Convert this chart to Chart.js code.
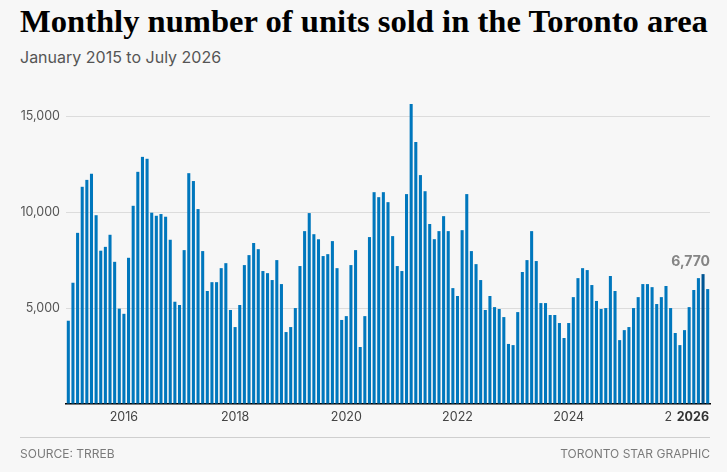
<!DOCTYPE html>
<html>
<head>
<meta charset="utf-8">
<script src="https://cdn.jsdelivr.net/npm/chart.js@4.4.1/dist/chart.umd.min.js"></script>
<style>
  html, body { margin:0; padding:0; background:#f7f7f7; }
  #wrap { position:relative; width:727px; height:472px; overflow:hidden; background:#f7f7f7; }
  #title { position:absolute; left:20px; top:5px; font-family:"Liberation Serif","Times New Roman",serif; font-weight:bold; font-size:32.6px; line-height:32px; color:#000; white-space:nowrap; }
  #subtitle { position:absolute; left:20px; top:49px; font-family:Inter,sans-serif; font-size:16px; line-height:16px; color:#555; white-space:nowrap; }
  #rule { position:absolute; left:20px; top:437px; width:690px; height:1px; background:#cfcfcf; }
  .foot { position:absolute; top:448px; font-family:Inter,sans-serif; font-size:12px; line-height:12px; color:#7a7a7a; white-space:nowrap; }
  #source { left:20px; }
  #credit { right:17px; }
  canvas { position:absolute; left:0; top:0; }
</style>
</head>
<body>
<div id="wrap">
  <div id="title">Monthly number of units sold in the Toronto area</div>
  <div id="subtitle">January 2015 to July 2026</div>
  <canvas id="c" width="727" height="472"></canvas>
  <div id="rule"></div>
  <div class="foot" id="source">SOURCE: TRREB</div>
  <div class="foot" id="credit">TORONTO STAR GRAPHIC</div>
</div>
<script>
// ---- data ----
const startYear = 2015;
const monthCodes = ['01','02','03','04','05','06','07','08','09','10','11','12'];
const units2015 = [4340, 6320, 8920, 11320, 11680, 12000, 9840, 7990, 8190, 8820, 7410, 4970];
const units2016 = [4700, 7620, 10330, 12100, 12880, 12780, 9970, 9810, 9900, 9760, 8560, 5330];
const units2017 = [5160, 8020, 12030, 11620, 10160, 7970, 5890, 6350, 6350, 7080, 7340, 4900];
const units2018 = [4010, 5160, 7240, 7760, 8390, 8070, 6930, 6820, 6460, 7500, 6250, 3750];
const units2019 = [4010, 5000, 7190, 9010, 9950, 8850, 8590, 7710, 7810, 8490, 7080, 4380];
const units2020 = [4580, 7240, 8020, 2970, 4580, 8700, 11040, 10780, 11040, 10520, 8750, 7190];
const units2021 = [6930, 10940, 15630, 13650, 11930, 11090, 9380, 8590, 9010, 9790, 9010, 6040];
const units2022 = [5630, 9060, 10940, 7970, 7290, 6460, 4900, 5630, 5050, 4950, 4530, 3130];
const units2023 = [3070, 4790, 6880, 7500, 9010, 7450, 5260, 5260, 4640, 4640, 4220, 3440];
const units2024 = [4220, 5570, 6560, 7080, 6980, 6200, 5370, 4950, 5000, 6670, 5890, 3330];
const units2025 = [3850, 4010, 5000, 5570, 6250, 6250, 6090, 5210, 5570, 6150, 5000, 3700];
const units2026 = [3070, 3850, 5050, 5940, 6560, 6770, 5990];
const yearlySeries = [units2015, units2016, units2017, units2018, units2019, units2020,
                      units2021, units2022, units2023, units2024, units2025, units2026];
const xTickYears = ['2016', '2018', '2020', '2022', '2024', '2026'];
const yTickValues = [5000, 10000, 15000];
const highlightMonth = '2026-06';
const boldTickLabel = '2026';

const categories = [];
const unitsSold = [];
yearlySeries.forEach((arr, yi) => {
  arr.forEach((v, mi) => {
    categories.push((startYear + yi) + '-' + monthCodes[mi]);
    unitsSold.push(v);
  });
});
const highlightIndex = categories.indexOf(highlightMonth);

// ---- styles ----
const BG = '#f7f7f7';
const BLUE = '#0077bd';
const DARK = '#005593';
const FONT = 'Inter, sans-serif';

const overlay = {
  id: 'overlay',
  afterDraw(chart) {
    const ctx = chart.ctx;
    const ca = chart.chartArea;
    const ys = chart.scales.y;
    ctx.save();
    // bold final-year tick label, boxed over the regular one
    ctx.font = 'bold 12.5px ' + FONT;
    const w = ctx.measureText(boldTickLabel).width;
    const rx = ca.right - 1;
    ctx.fillStyle = BG;
    ctx.fillRect(rx - w - 5, ca.bottom + 2, w + 12, 22);
    ctx.fillStyle = '#333';
    ctx.textAlign = 'right';
    ctx.textBaseline = 'alphabetic';
    ctx.fillText(boldTickLabel, rx, ca.bottom + 17);
    // value annotation
    const v = unitsSold[highlightIndex];
    const top = ys.getPixelForValue(v);
    ctx.font = 'bold 14px ' + FONT;
    ctx.fillStyle = '#858585';
    ctx.fillText(v.toLocaleString('en-US'), rx + 1, top - 8);
    ctx.restore();
  }
};

new Chart(document.getElementById('c'), {
  type: 'bar',
  data: {
    labels: categories,
    datasets: [{
      data: unitsSold,
      backgroundColor: ctx => ctx.dataIndex === highlightIndex ? DARK : BLUE,
      borderWidth: 0,
      barPercentage: 0.66,
      categoryPercentage: 1
    }]
  },
  options: {
    responsive: false,
    animation: false,
    devicePixelRatio: 1,
    layout: { padding: { left: 0, right: 17, top: 97, bottom: 38 } },
    plugins: { legend: { display: false }, tooltip: { enabled: false }, title: { display: false } },
    scales: {
      x: {
        z: 1,
        grid: { display: false, drawTicks: false },
        border: { display: true, color: '#000', width: 1.5 },
        ticks: {
          autoSkip: false, maxRotation: 0, minRotation: 0, padding: 6,
          color: '#444', font: { family: FONT, size: 12.5 },
          callback: function(val, i) {
            const lab = categories[i];
            const y = lab.slice(0, 4), m = lab.slice(5);
            return (m === '01' && xTickYears.includes(y)) ? y : '';
          }
        },
        afterFit(s) { s.height = 30; }
      },
      y: {
        min: 0, max: 16000,
        grid: { drawTicks: false, color: c => c.tick.value === 0 ? 'rgba(0,0,0,0)' : '#dcdcdc', lineWidth: 1 },
        border: { display: false },
        afterBuildTicks(s) { s.ticks = [0].concat(yTickValues).map(v => ({ value: v })); },
        ticks: {
          padding: 6, color: '#555', font: { family: FONT, size: 12.5 },
          callback: v => v === 0 ? '' : v.toLocaleString('en-US')
        },
        afterFit(s) { s.width = 66; }
      }
    }
  },
  plugins: [overlay]
});
</script>
</body>
</html>
